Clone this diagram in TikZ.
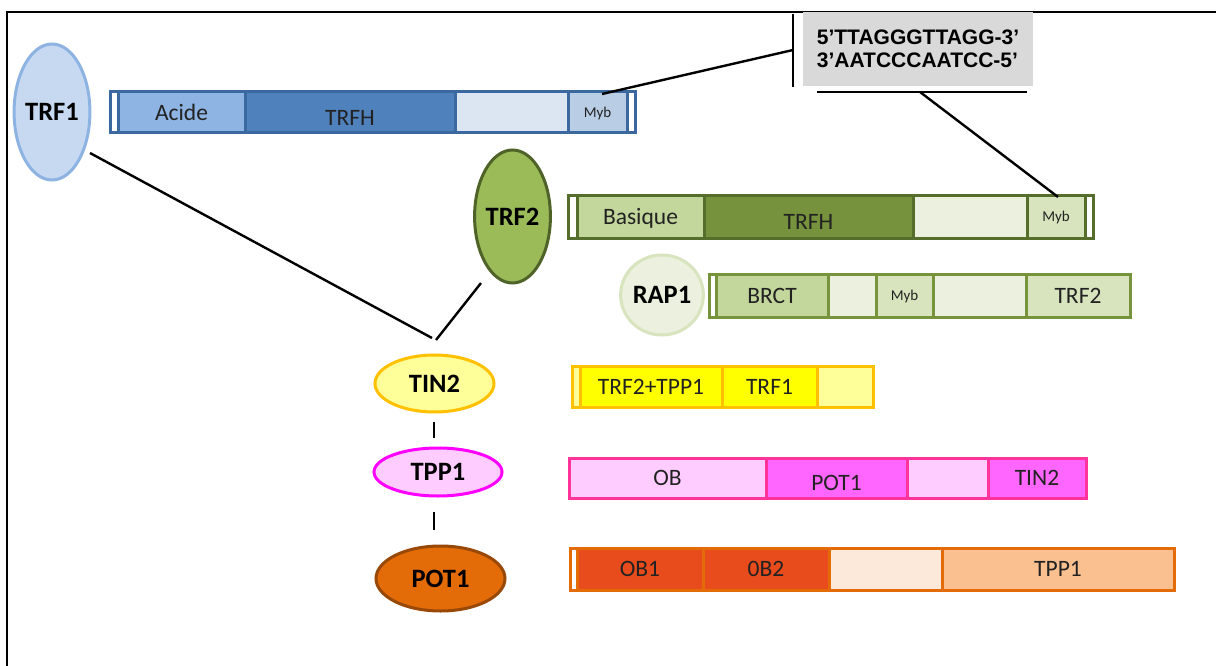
\documentclass[tikz,border=0pt]{standalone}
\usepackage{fontspec}
\setmainfont{Carlito}
\newfontfamily\arialfont{Liberation Sans}
\usetikzlibrary{shapes.geometric}
\definecolor{txt}{HTML}{222222}
\definecolor{b1}{HTML}{3A689F}
\definecolor{b2}{HTML}{566E2C}
\definecolor{b3}{HTML}{77933C}
\definecolor{b4}{HTML}{FFC000}
\definecolor{b5}{HTML}{FF3399}
\definecolor{b6}{HTML}{E36C09}
\definecolor{trfoneline}{HTML}{8DB3E2}
\definecolor{trfonefill}{HTML}{C6D9F1}
\definecolor{bluea}{HTML}{8EB4E3}
\definecolor{blueb}{HTML}{4F81BD}
\definecolor{bluec}{HTML}{DCE6F2}
\definecolor{blued}{HTML}{B9CDE5}
\definecolor{dnagray}{HTML}{D9D9D9}
\definecolor{trftwoline}{HTML}{4F6228}
\definecolor{trftwofill}{HTML}{9BBB59}
\definecolor{greena}{HTML}{C3D69B}
\definecolor{greenb}{HTML}{76923C}
\definecolor{greenc}{HTML}{EBF1DE}
\definecolor{greend}{HTML}{D7E4BD}
\definecolor{yellowa}{HTML}{FFFF00}
\definecolor{yellowb}{HTML}{FFFF99}
\definecolor{pinkline}{HTML}{FF00FF}
\definecolor{pinka}{HTML}{FFCCFF}
\definecolor{pinkb}{HTML}{FF66FF}
\definecolor{potline}{HTML}{984807}
\definecolor{potfill}{HTML}{E36C09}
\definecolor{orangea}{HTML}{E84C1C}
\definecolor{orangeb}{HTML}{FDE9D9}
\definecolor{orangec}{HTML}{FAC090}
\tikzset{
  bar/.style={draw=#1, line width=3pt, fill=white},
  seg/.style={rectangle, draw=#1, line width=3pt, inner sep=0pt, outer sep=0pt},
  seglabel/.style={inner sep=0pt, text=txt, text height=15.5pt, text depth=0pt,
    font=\fontsize{23.5}{23.5}\selectfont},
  small/.style={font=\fontsize{15}{15}\selectfont, text height=10pt},
  low/.style={yshift=-5pt},
  prot/.style={ellipse, line width=3pt, inner sep=0pt, text height=17pt, text depth=0pt,
    font=\bfseries\fontsize{26.5}{26.5}\selectfont},
  link/.style={line width=2.4pt, black}
}
% \segm{name}{x1}{x2}{y1}{y2}{border}{fill}{text}{label options}
\newcommand{\segm}[9]{%
  \node[seg=#6, fill=#7, minimum width={(#3-#2)*1pt}, minimum height={(#5-#4)*1pt}]
    (#1) at ({(#2+#3)/2},{(#4+#5)/2}) {};
  \node[seglabel, #9] (#1-t) at (#1.center) {#8};}
\begin{document}
\begin{tikzpicture}[x=1pt,y=-1pt]
\useasboundingbox (0,0) rectangle (1216,666);
\fill[white] (0,0) rectangle (1216,666);
% frame
\draw[line width=2.5pt] (1216,12) -- (7,12) -- (7,666);

% ---- TRF1
\node[prot, draw=trfoneline, fill=trfonefill, minimum width=70pt, minimum height=136pt] (trf1) at (52,112) {TRF1};
\draw[bar=b1] (110,92) rectangle (635,133);
\segm{trf1a}{118}{245}{92}{133}{b1}{bluea}{Acide}{}
\segm{trf1b}{245}{455}{92}{133}{b1}{blueb}{TRFH}{low}
\segm{trf1c}{455}{568}{92}{133}{b1}{bluec}{}{}
\segm{trf1myb}{568}{627}{92}{133}{b1}{blued}{Myb}{small}

% ---- DNA
\node[fill=dnagray, minimum width=230pt, minimum height=74pt, inner sep=0pt,
  align=left, font=\arialfont\bfseries\fontsize{21}{23}\selectfont, text=black] (dna) at (918,49)
  {5’TTAGGGTTAGG-3’\\3’AATCCCAATCC-5’};
\coordinate (vt) at (793,14);
\coordinate (vb) at (793,87);
\coordinate (vm) at (793,50);
\coordinate (hl) at (817,92);
\coordinate (hr) at (1027,92);
\coordinate (hm) at (920,92);
\draw[link] (vt) -- (vb);
\draw[link] (hl) -- (hr);

% ---- TRF2
\node[prot, draw=trftwoline, fill=trftwofill, minimum width=71pt, minimum height=133pt] (trf2) at (512.5,216.5) {TRF2};
\draw[bar=b2] (568,195) rectangle (1093,238);
\segm{trf2a}{577}{704}{195}{238}{b2}{greena}{Basique}{}
\segm{trf2b}{704}{913}{195}{238}{b2}{greenb}{TRFH}{low}
\segm{trf2c}{913}{1027}{195}{238}{b2}{greenc}{}{}
\segm{trf2myb}{1027}{1085}{195}{238}{b2}{greend}{Myb}{small}

% ---- RAP1
\node[prot, draw=greend, fill=greenc, minimum width=70pt, minimum height=80pt] (rap1) at (662,295) {RAP1};
\draw[bar=b3] (709,274) rectangle (1130,317);
\segm{rap1a}{716}{828}{274}{317}{b3}{greena}{BRCT}{}
\segm{rap1b}{828}{876}{274}{317}{b3}{greenc}{}{}
\segm{rap1c}{876}{933}{274}{317}{b3}{greend}{Myb}{small}
\segm{rap1d}{933}{1026}{274}{317}{b3}{greenc}{}{}
\segm{rap1e}{1026}{1130}{274}{317}{b3}{greend}{TRF2}{}

% ---- TIN2
\node[prot, draw=b4, fill=yellowb, minimum width=119pt, minimum height=57pt] (tin2) at (434.5,383.5) {TIN2};
\draw[bar=b4, fill=yellowb] (572,366) rectangle (873,407);
\segm{tin2a}{580}{722}{366}{407}{b4}{yellowa}{TRF2+TPP1}{}
\segm{tin2b}{722}{817}{366}{407}{b4}{yellowa}{TRF1}{}
\segm{tin2c}{817}{873}{366}{407}{b4}{yellowb}{}{}

% ---- TPP1
\node[prot, draw=pinkline, fill=pinka, minimum width=128pt, minimum height=48pt] (tpp1) at (438,472) {TPP1};
\draw[bar=b5] (569,458) rectangle (1086,498);
\segm{tpp1a}{569}{766}{458}{498}{b5}{pinka}{OB}{}
\segm{tpp1b}{766}{907}{458}{498}{b5}{pinkb}{POT1}{low}
\segm{tpp1c}{907}{988}{458}{498}{b5}{pinka}{}{}
\segm{tpp1d}{988}{1086}{458}{498}{b5}{pinkb}{TIN2}{}

% ---- POT1
\node[prot, draw=potline, fill=potfill, minimum width=129pt, minimum height=65pt] (pot1) at (440.5,578.5) {POT1};
\draw[bar=b6] (570,548) rectangle (1174,590);
\segm{pot1a}{577}{703}{548}{590}{b6}{orangea}{OB1}{}
\segm{pot1b}{703}{829}{548}{590}{b6}{orangea}{0B2}{}
\segm{pot1c}{829}{942}{548}{590}{b6}{orangeb}{}{}
\segm{pot1d}{942}{1174}{548}{590}{b6}{orangec}{TPP1}{}

% ---- connectors
\coordinate (j1s) at (90,153);
\coordinate (j1e) at (432,338);
\coordinate (j2s) at (481,283);
\coordinate (j2e) at (436,340);
\coordinate (mybA) at (602,94);
\coordinate (mybB) at (1058,197);
\draw[link] (j1s) -- (j1e);
\draw[link] (j2s) -- (j2e);
\draw[link] (mybA) -- (vm);
\draw[link] (hm) -- (mybB);
\coordinate (d1a) at (434,422);
\coordinate (d1b) at (434,438);
\coordinate (d2a) at (434,512);
\coordinate (d2b) at (434,530);
\draw[link] (d1a) -- (d1b);
\draw[link] (d2a) -- (d2b);
\end{tikzpicture}
\end{document}
